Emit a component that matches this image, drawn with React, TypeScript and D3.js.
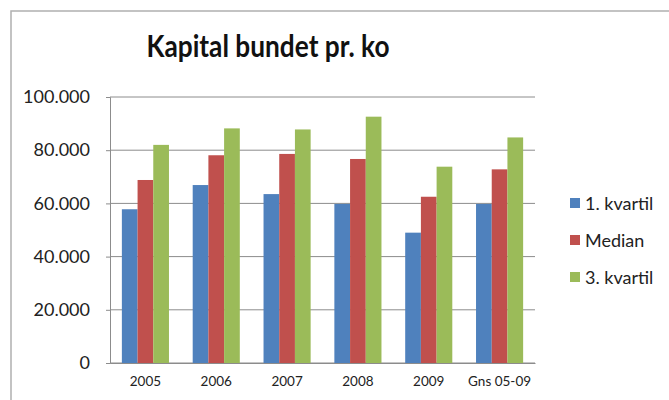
import React, { useRef, useEffect } from "react";
import * as d3 from "d3";

const categories = ["2005", "2006", "2007", "2008", "2009", "Gns 05-09"];
const seriesNames = ["1. kvartil", "Median", "3. kvartil"];
const kvartil1 = [57800, 66900, 63500, 59800, 49000, 59800];
const median = [68800, 78100, 78600, 76700, 62500, 72800];
const kvartil3 = [82000, 88200, 87800, 92600, 73800, 84800];
const yTicks = [0, 20000, 40000, 60000, 80000, 100000];
const colors = ["#4F81BD", "#C0504D", "#9BBB59"];

const font = "Lato, 'Open Sans', sans-serif";

export default function App() {
  const svgRef = useRef<SVGSVGElement>(null);

  useEffect(() => {
    const svg = d3.select(svgRef.current);
    svg.selectAll("*").remove();

    const width = 669;
    const height = 400;
    const margin = { top: 97, right: 134, bottom: 37, left: 110 };
    const series = [kvartil1, median, kvartil3];

    // chart frame (runs off the right and bottom edges)
    svg
      .append("rect")
      .attr("x", 11)
      .attr("y", 11)
      .attr("width", 700)
      .attr("height", 450)
      .attr("fill", "white")
      .attr("stroke", "#b0b0b0")
      .attr("stroke-width", 1.5);

    svg
      .append("text")
      .attr("x", 268)
      .attr("y", 57)
      .attr("text-anchor", "middle")
      .attr("font-family", font)
      .attr("font-weight", "bold")
      .attr("font-size", 31)
      .attr("textLength", 243)
      .attr("lengthAdjust", "spacingAndGlyphs")
      .attr("fill", "#111")
      .text("Kapital bundet pr. ko");

    const x = d3
      .scaleBand()
      .domain(categories)
      .range([margin.left, width - margin.right])
      .paddingInner(0.335)
      .paddingOuter(0.1675);

    const xs = d3
      .scaleBand()
      .domain(seriesNames)
      .range([0, x.bandwidth()]);

    const y = d3
      .scaleLinear()
      .domain([0, 100000])
      .range([height - margin.bottom, margin.top]);

    const fmt = (v: number) => d3.format(",")(v).replace(/,/g, ".");

    // gridlines
    svg
      .append("g")
      .selectAll("line")
      .data(yTicks)
      .join("line")
      .attr("x1", margin.left)
      .attr("x2", width - margin.right)
      .attr("y1", (d) => y(d))
      .attr("y2", (d) => y(d))
      .attr("stroke", "#8c8c8c")
      .attr("stroke-width", 1);

    // bars
    series.forEach((vals, si) => {
      svg
        .append("g")
        .selectAll("rect")
        .data(vals)
        .join("rect")
        .attr("x", (_, i) => (x(categories[i]) as number) + (xs(seriesNames[si]) as number))
        .attr("y", (d) => y(d))
        .attr("width", xs.bandwidth())
        .attr("height", (d) => y(0) - y(d))
        .attr("fill", colors[si]);
    });

    // y axis
    const yAxis = svg
      .append("g")
      .attr("transform", `translate(${margin.left},0)`)
      .call(d3.axisLeft(y).tickValues(yTicks).tickFormat((d) => fmt(d as number)).tickSize(4).tickPadding(16));
    yAxis.select(".domain").attr("stroke", "#8c8c8c");
    yAxis.selectAll(".tick line").attr("stroke", "#8c8c8c");
    yAxis
      .selectAll("text")
      .attr("font-family", font)
      .attr("font-size", 18)
      .attr("fill", "#222");

    // x axis
    const xAxis = svg
      .append("g")
      .attr("transform", `translate(0,${height - margin.bottom})`)
      .call(d3.axisBottom(x).tickSize(0).tickPadding(13));
    xAxis.select(".domain").attr("stroke", "#8c8c8c");
    xAxis
      .selectAll("text")
      .attr("font-family", font)
      .attr("font-size", 13.5)
      .attr("fill", "#222");

    // legend
    const legend = svg
      .append("g")
      .selectAll("g")
      .data(seriesNames)
      .join("g")
      .attr("transform", (_, i) => `translate(570,${204 + i * 37})`);
    legend
      .append("rect")
      .attr("x", 0)
      .attr("y", -6)
      .attr("width", 10)
      .attr("height", 10)
      .attr("fill", (_, i) => colors[i]);
    legend
      .append("text")
      .attr("x", 15)
      .attr("y", 0)
      .attr("dy", "0.35em")
      .attr("font-family", font)
      .attr("font-size", 18)
      .attr("fill", "#222")
      .text((d) => d);
  }, []);

  return (
    <svg
      ref={svgRef}
      width={669}
      height={400}
      style={{ position: "absolute", left: 0, top: 0, background: "white" }}
    />
  );
}
